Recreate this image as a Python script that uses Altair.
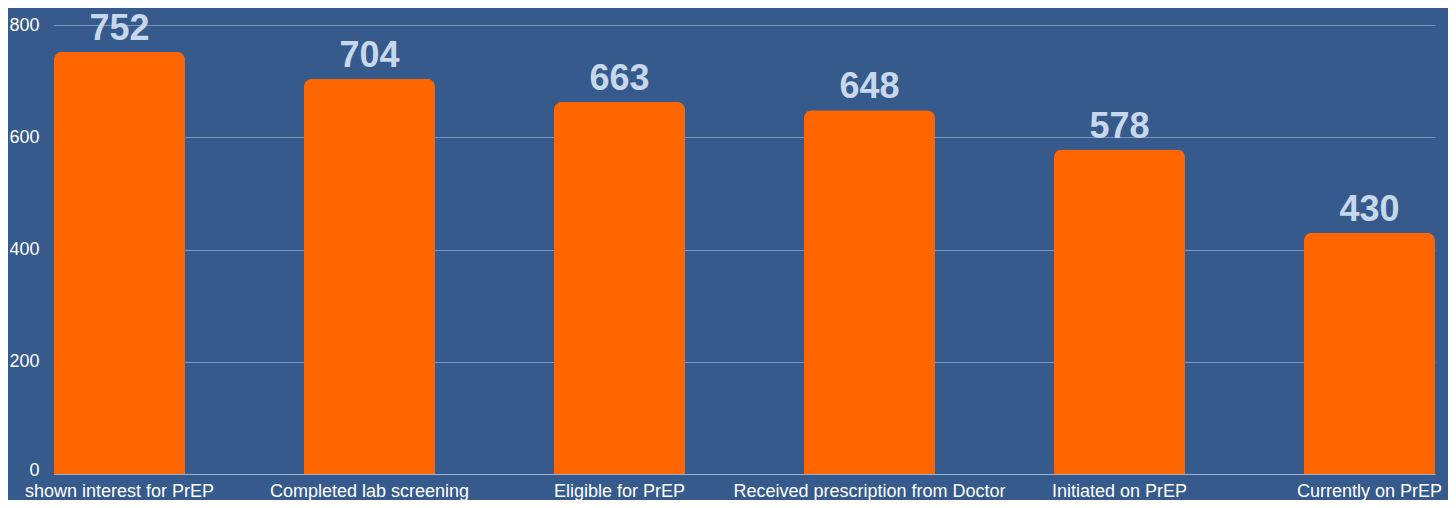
import altair as alt
import pandas as pd

stages = ["shown interest for PrEP", "Completed lab screening", "Eligible for PrEP",
          "Received prescription from Doctor", "Initiated on PrEP", "Currently on PrEP"]
counts = [752, 704, 663, 648, 578, 430]

df = pd.DataFrame({"stage": stages, "count": counts})

BG = "#355a8b"
FONT = "Liberation Sans"

x = alt.X("stage:N", sort=stages, title=None,
          scale=alt.Scale(paddingInner=0.476, paddingOuter=0),
          axis=alt.Axis(labelAngle=0, labelColor="#ffffff", labelFontSize=18, labelFont=FONT,
                        labelPadding=8, ticks=False, domain=True, domainColor="#9fb3cf",
                        domainWidth=1, labelLimit=400))
y = alt.Y("count:Q", title=None,
          scale=alt.Scale(domain=[0, 800], nice=False),
          axis=alt.Axis(values=[0, 200, 400, 600, 800], labelColor="#ffffff", labelFontSize=18,
                        labelFont=FONT, labelPadding=15, ticks=False, domain=False,
                        labelOffset={"condition": {"test": "datum.value === 0", "value": -4}, "value": 0},
                        gridColor="#8ea4c4", gridWidth=1, gridOpacity=0.8))

bars = alt.Chart(df).mark_bar(color="#ff6600", cornerRadiusTopLeft=8, cornerRadiusTopRight=8).encode(x=x, y=y)
labels = alt.Chart(df).mark_text(dy=-12, baseline="alphabetic", fontSize=36, fontWeight="bold",
                                 font=FONT, color="#c8d8ec").encode(
    x=alt.X("stage:N", sort=stages), y="count:Q", text="count:Q")

chart = (bars + labels).properties(
    width=1381, height=449,
    autosize=alt.AutoSizeParams(type="none"),
    padding={"left": 46, "top": 17, "right": 13, "bottom": 26},
    background=BG,
).configure_view(strokeWidth=0)

chart.save("out.html", embed_options={"renderer": "svg", "actions": False})
